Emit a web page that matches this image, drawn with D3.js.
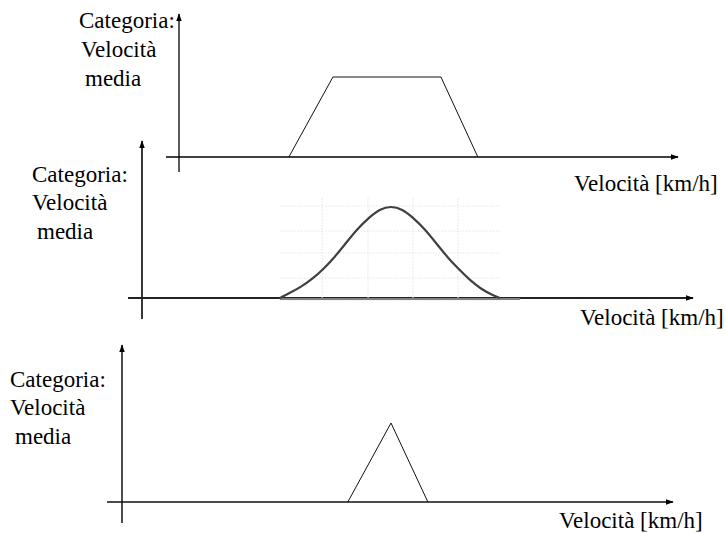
<!DOCTYPE html>
<html>
<head>
  <meta charset="UTF-8">
  <script src="https://d3js.org/d3.v7.min.js"></script>
</head>
<body style="margin:0">
  <svg id="chart" width="726" height="533"></svg>

  <script>
    // --- data ---
    const labelLines = ["Categoria:", "Velocità", "media"];
    const xLabel = "Velocità [km/h]";

    // panel 1: trapezoid (velocity, level)
    const trapV = [37.3, 47.1, 71.1, 79.3];
    const trapY = [0, 0.80, 0.80, 0];

    // panel 2: bell curve
    const bellV = [35.3, 37.5, 40, 42.5, 45, 47.5, 50, 52.5, 55, 57.5, 60, 62.5, 65, 67.5, 70, 72.5, 75, 77.5, 80, 82.5, 84.2];
    const bellY = [0, 0.05, 0.11, 0.19, 0.29, 0.41, 0.55, 0.69, 0.80, 0.89, 0.92, 0.89, 0.80, 0.69, 0.55, 0.41, 0.29, 0.18, 0.09, 0.03, 0];
    const gridV = [44.7, 54.9, 64.9, 74.9];
    const gridY = [0.92, 0.67, 0.45, 0.20, -0.02];

    // panel 3: triangle
    const triV = [50.4, 60, 68.2];
    const triY = [0, 0.79, 0];

    // --- layout ---
    const panels = [
      { base: 157, yAxisX: 179, yTop: 14,  yBot: 172, xStart: 166, xEnd: 678, labX: [79, 81, 85], labY: [28, 57, 86], xlabX: 574, xlabY: 191, axisColor: "#000", axisW: 1.3 },
      { base: 298, yAxisX: 142, yTop: 141, yBot: 319, xStart: 128, xEnd: 693, labX: [32, 32, 37], labY: [182, 210, 239], xlabX: 580, xlabY: 325, axisColor: "#222", axisW: 1.8 },
      { base: 502, yAxisX: 122, yTop: 345, yBot: 523, xStart: 107, xEnd: 673, labX: [10, 10, 15], labY: [387, 415, 444], xlabX: 559, xlabY: 528, axisColor: "#111", axisW: 1.5 }
    ];

    const svg = d3.select("#chart");

    svg.append("defs").append("marker")
      .attr("id", "arrow")
      .attr("viewBox", "0 0 10 10")
      .attr("refX", 9).attr("refY", 5)
      .attr("markerWidth", 8).attr("markerHeight", 8)
      .attr("markerUnits", "userSpaceOnUse")
      .attr("orient", "auto")
      .append("path")
      .attr("d", "M0,1.5L10,5L0,8.5Z")
      .attr("fill", "#000");

    // shared velocity scale, level scale per panel (100px per unit)
    const x = d3.scaleLinear().domain([0, 120]).range([121, 661]);
    const yFor = p => d3.scaleLinear().domain([0, 1]).range([p.base, p.base - 100]);

    const addText = (tx, ty, t) => svg.append("text")
      .attr("x", tx).attr("y", ty)
      .style("font-family", "Liberation Serif")
      .style("font-size", "23px")
      .text(t);

    panels.forEach(p => {
      // axes
      svg.append("line")
        .attr("x1", p.xStart).attr("x2", p.xEnd)
        .attr("y1", p.base).attr("y2", p.base)
        .attr("stroke", p.axisColor).attr("stroke-width", p.axisW)
        .attr("marker-end", "url(#arrow)");
      svg.append("line")
        .attr("x1", p.yAxisX).attr("x2", p.yAxisX)
        .attr("y1", p.yBot).attr("y2", p.yTop)
        .attr("stroke", p.axisColor).attr("stroke-width", p.axisW)
        .attr("marker-end", "url(#arrow)");
      // labels
      labelLines.forEach((t, i) => addText(p.labX[i], p.labY[i], t));
      addText(p.xlabX, p.xlabY, xLabel);
    });

    // panel 1 trapezoid
    const y1 = yFor(panels[0]);
    svg.append("path")
      .datum(d3.zip(trapV, trapY))
      .attr("d", d3.line().x(d => x(d[0])).y(d => y1(d[1])))
      .attr("fill", "none").attr("stroke", "#111").attr("stroke-width", 1);

    // panel 2 grid + bell
    const p2 = panels[1];
    const y2 = yFor(p2);
    const grid = svg.append("g").attr("stroke", "#e4e4e4").attr("stroke-width", 1).attr("stroke-dasharray", "1.5,1.5");
    grid.selectAll(".h").data(gridY).join("line")
      .attr("x1", x(bellV[0])).attr("x2", x(bellV[bellV.length - 1]))
      .attr("y1", d => y2(d)).attr("y2", d => y2(d));
    grid.selectAll(".v").data(gridV).join("line")
      .attr("x1", d => x(d)).attr("x2", d => x(d))
      .attr("y1", y2(1.0)).attr("y2", y2(-0.02));

    svg.append("line")
      .attr("x1", x(bellV[0])).attr("x2", x(88.7))
      .attr("y1", p2.base + 1).attr("y2", p2.base + 1)
      .attr("stroke", "#808080").attr("stroke-width", 2);

    svg.append("path")
      .datum(d3.zip(bellV, bellY))
      .attr("d", d3.line().curve(d3.curveBasis).x(d => x(d[0])).y(d => y2(d[1])))
      .attr("fill", "none").attr("stroke", "#404040").attr("stroke-width", 2.2);

    // panel 3 triangle
    const y3 = yFor(panels[2]);
    svg.append("path")
      .datum(d3.zip(triV, triY))
      .attr("d", d3.line().x(d => x(d[0])).y(d => y3(d[1])))
      .attr("fill", "none").attr("stroke", "#111").attr("stroke-width", 1);
  </script>
</body>
</html>
